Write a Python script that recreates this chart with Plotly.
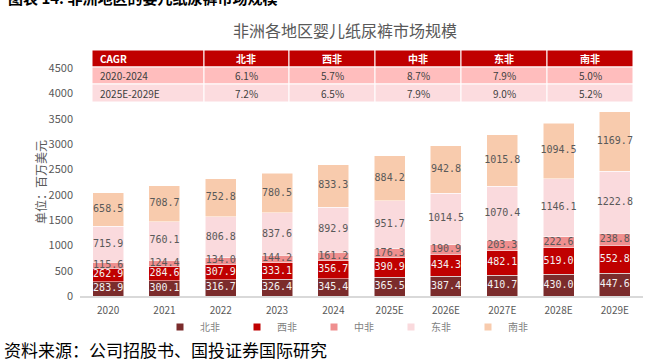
import plotly.graph_objects as go

years = ["2020", "2021", "2022", "2023", "2024", "2025E", "2026E", "2027E", "2028E", "2029E"]
north = [283.9, 300.1, 316.7, 326.4, 345.4, 365.5, 387.4, 410.7, 430.0, 447.6]
west = [262.9, 284.6, 307.9, 333.1, 356.7, 390.9, 434.3, 482.1, 519.0, 552.8]
central = [115.6, 124.4, 134.0, 144.2, 161.2, 176.3, 190.9, 203.3, 222.6, 238.8]
east = [715.9, 760.1, 806.8, 837.6, 892.9, 951.7, 1014.5, 1070.4, 1146.1, 1222.8]
south = [658.5, 708.7, 752.8, 780.5, 833.3, 884.2, 942.8, 1015.8, 1094.5, 1169.7]

region_names = ["北非", "西非", "中非", "东非", "南非"]
region_colors = ["#7B2C2C", "#C00000", "#EF8F8F", "#FADADD", "#F8CBAD"]
label_colors = ["#F2F2F2", "#F2F2F2", "#595959", "#595959", "#595959"]

cagr_header = ["CAGR"] + region_names
cagr_periods = ["2020-2024", "2025E-2029E"]
cagr_2020_2024 = ["6.1%", "5.7%", "8.7%", "7.9%", "5.0%"]
cagr_2025_2029 = ["7.2%", "6.5%", "7.9%", "9.0%", "5.2%"]

y_ticks = [0, 500, 1000, 1500, 2000, 2500, 3000, 3500, 4000, 4500]

W, H = 669, 362
ML, MR, MT, MB = 80, 26, 40, 66
plot_h = H - MT - MB
plot_w = W - ML - MR


def px_x(p):
    return (p - ML) / plot_w


def px_y(p):
    return (H - MB - p) / plot_h


fig = go.Figure()
series = [north, west, central, east, south]
for name, vals, col in zip(region_names, series, region_colors):
    fig.add_trace(go.Bar(
        x=years, y=vals, name=name,
        marker=dict(color=col, line=dict(color="white", width=0.5)),
        showlegend=False, hoverinfo="skip",
    ))

# value labels drawn above all bars, centred in each segment
base = [0.0] * len(years)
for name, vals, lc in zip(region_names, series, label_colors):
    mids = [b + v / 2 for b, v in zip(base, vals)]
    fig.add_trace(go.Scatter(
        x=years, y=mids, mode="text", text=[f"{v:.1f}" for v in vals],
        textposition="middle center", showlegend=False, hoverinfo="skip",
        textfont=dict(family="DejaVu Sans Mono", size=10, color=lc),
    ))
    base = [b + v for b, v in zip(base, vals)]

for name, col in zip(region_names, region_colors):
    fig.add_trace(go.Scatter(
        x=[None], y=[None], mode="markers", name=name,
        marker=dict(symbol="square", size=7, color=col), showlegend=True,
    ))

# CAGR table built from the lists above
col_edges = [92, 204, 289, 375, 461, 547, 633]
row_edges = [50, 67, 84, 102]
row_fills = ["#C00000", "#FFBDBD", "#FCDCDF"]
table_rows = [cagr_header, [cagr_periods[0]] + cagr_2020_2024, [cagr_periods[1]] + cagr_2025_2029]
shapes = []
annotations = []
for r, (row, fill) in enumerate(zip(table_rows, row_fills)):
    y0, y1 = row_edges[r], row_edges[r + 1]
    for c, txt in enumerate(row):
        x0, x1 = col_edges[c], col_edges[c + 1]
        shapes.append(dict(type="rect", xref="paper", yref="paper",
                           x0=px_x(x0), x1=px_x(x1), y0=px_y(y1), y1=px_y(y0),
                           fillcolor=fill, line=dict(color="white", width=1), layer="above"))
        is_head = r == 0
        annotations.append(dict(
            text=f"<b>{txt}</b>" if is_head else txt, xref="paper", yref="paper",
            x=px_x(x0 + 6) if c == 0 else px_x((x0 + x1) / 2),
            xanchor="left" if c == 0 else "center",
            y=px_y((y0 + y1) / 2), yanchor="middle", showarrow=False,
            font=dict(family="Noto Sans CJK SC", size=10,
                      color="white" if is_head else "#404040"),
        ))

annotations += [
    dict(text="<b>图表 14: 非洲地区的婴儿纸尿裤市场规模</b>", xref="paper", yref="paper",
         x=px_x(6), y=px_y(-3), xanchor="left", yanchor="middle", showarrow=False,
         font=dict(size=15, color="#000000")),
    dict(text="非洲各地区婴儿纸尿裤市场规模", xref="paper", yref="paper",
         x=px_x(345), y=px_y(30), xanchor="center", yanchor="middle", showarrow=False,
         font=dict(size=16, color="#595959")),
    dict(text="单位：百万美元", xref="paper", yref="paper", textangle=-90,
         x=px_x(40), y=px_y(182), xanchor="center", yanchor="middle", showarrow=False,
         font=dict(size=12, color="#595959")),
    dict(text="资料来源：公司招股书、国投证券国际研究", xref="paper", yref="paper",
         x=px_x(2), y=px_y(349), xanchor="left", yanchor="middle", showarrow=False,
         font=dict(size=17, color="#000000")),
]

fig.update_layout(
    width=W, height=H, margin=dict(l=ML, r=MR, t=MT, b=MB),
    paper_bgcolor="white", plot_bgcolor="white",
    barmode="stack", bargap=0.45,
    font=dict(family="Noto Sans CJK SC", color="#595959"),
    xaxis=dict(type="category", showgrid=False, showline=True, linecolor="#D9D9D9", linewidth=2,
               ticks="", tickfont=dict(size=10, color="#595959"), ticklabelstandoff=4),
    yaxis=dict(domain=[0, px_y(68)], range=[0, 4500], tickvals=y_ticks, showgrid=False,
               showline=False, zeroline=False, ticks="", ticklabelstandoff=6,
               tickfont=dict(size=11, color="#595959")),
    legend=dict(orientation="h", traceorder="normal", x=px_x(160), xanchor="left",
                y=px_y(327), yanchor="middle",
                entrywidth=32, entrywidthmode="pixels",
                font=dict(size=10, color="#7F7F7F"), bgcolor="rgba(0,0,0,0)"),
    shapes=shapes,
    annotations=annotations,
)

fig.write_html("out.html", config={"displayModeBar": False},
               post_script="document.body.style.margin='0';document.body.style.overflow='hidden';")
